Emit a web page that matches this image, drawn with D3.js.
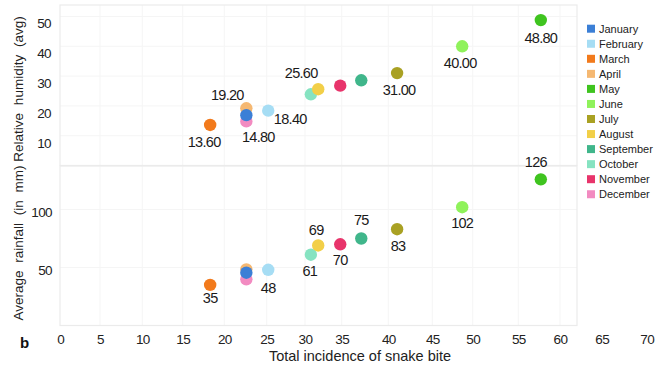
<!DOCTYPE html>
<html>
<head>
<meta charset="utf-8">
<script src="https://cdn.jsdelivr.net/npm/d3@7"></script>
<style>
  html, body { margin: 0; padding: 0; background: #fff; }
  svg { display: block; font-family: "Liberation Sans", Arial, sans-serif; }
</style>
</head>
<body>
<svg id="chart" width="672" height="365"></svg>
<script>
// Monthly snake bite incidence versus humidity and rainfall
const months = ["January", "February", "March", "April", "May", "June",
                "July", "August", "September", "October", "November", "December"];
const monthColors = ["#3b7fd6", "#a6ddf4", "#f27a1c", "#f5b872", "#3fc41f", "#8ff25b",
                     "#a9a123", "#f2cf48", "#40b68b", "#86e3c1", "#e8346b", "#f28bc1"];
const snakeBites = [22.6, 25.2, 18.3, 22.6, 57.7, 48.7, 41.0, 31.8, 37.1, 30.8, 34.8, 22.6];
const humidity   = [16.9, 18.4, 13.6, 19.2, 48.8, 40.0, 31.0, 25.6, 28.6, 23.9, 26.8, 14.8];
const rainfall   = [45.5, 48, 35, 48.4, 126, 102, 83, 69, 75, 61, 70, 39.8];
// Which points carry a value label (null = unlabelled)
const humidityLabels = [null, "18.40", "13.60", "19.20", "48.80", "40.00", "31.00", "25.60", null, null, null, "14.80"];
const rainfallLabels = [null, "48", "35", null, "126", "102", "83", "69", "75", "61", "70", null];
const xTicks = [0, 5, 10, 15, 20, 25, 30, 35, 40, 45, 50, 55, 60, 65, 70];
const humidityTicks = [10, 20, 30, 40, 50];
const rainfallTicks = [50, 100];

// label placement around each dot: [dx, dy] of the text centre
const humLabelOffset = [null, [22, 8], [-6, 17], [-19, -13], [0, 18], [-2, 17], [2, 17], [-17, -16], null, null, null, [12, 16]];
const rainLabelOffset = [null, [0, 18], [0, 13], null, [-5, -17], [0, 16], [1, 17], [-2, -15], [0, -19], [-1, 16], [0, 16], null];

const svg = d3.select("#chart");

// hand-spaced horizontal axis: each 5-unit tick has its own position
const xTickPixels = [60.3, 100, 142.3, 182.7, 224.3, 266.7, 305, 341.7, 388.3, 432.3, 472.7, 518.3, 560, 601.7, 646.7];
const x = d3.scaleLinear().domain(xTicks).range(xTickPixels);
const yHum = d3.scaleLinear().domain([0, 50]).range([165.5, 16.5]);
const yRain = d3.scaleLinear().domain([0, 100]).range([325.5, 209.5]);

const frameLeft = 60, frameRight = 577;
const panels = [
  { top: 5, bottom: 165.5, y: yHum, ticks: humidityTicks },
  { top: 166, bottom: 325.5, y: yRain, ticks: rainfallTicks }
];

// faint grid and panel frames
panels.forEach(p => {
  const g = svg.append("g");
  g.selectAll("line.v").data(d3.range(5, 61, 5)).join("line")
    .attr("x1", d => x(d)).attr("x2", d => x(d))
    .attr("y1", p.top).attr("y2", p.bottom)
    .attr("stroke", "#f5f5f5").attr("stroke-width", 1);
  g.selectAll("line.h").data(p.ticks).join("line")
    .attr("x1", frameLeft).attr("x2", frameRight)
    .attr("y1", d => p.y(d)).attr("y2", d => p.y(d))
    .attr("stroke", "#f5f5f5").attr("stroke-width", 1);
  g.append("rect")
    .attr("x", frameLeft).attr("y", p.top)
    .attr("width", frameRight - frameLeft).attr("height", p.bottom - p.top)
    .attr("fill", "none").attr("stroke", "#ebebeb").attr("stroke-width", 1.2);
});

// axes
function styleAxis(g, shift) {
  g.select(".domain").remove();
  g.selectAll("text")
    .attr("font-size", 13.5).attr("fill", "#222")
    .attr("font-family", "'Liberation Sans', Arial, sans-serif")
    .attr("letter-spacing", "-0.6")
    .attr("transform", `translate(0,${shift})`);
}
svg.append("g").attr("transform", "translate(51,0)")
  .call(d3.axisLeft(yHum).tickValues(humidityTicks).tickSize(0).tickPadding(0))
  .call(g => styleAxis(g, 7));
svg.append("g").attr("transform", "translate(52,0)")
  .call(d3.axisLeft(yRain).tickValues(rainfallTicks).tickSize(0).tickPadding(0))
  .call(g => styleAxis(g, 3));
svg.append("g").attr("transform", "translate(0,332)")
  .call(d3.axisBottom(x).tickValues(xTicks).tickSize(0).tickPadding(2))
  .call(g => styleAxis(g, 0));

// axis titles
svg.append("text")
  .attr("transform", "translate(23,89) rotate(-90)")
  .attr("text-anchor", "middle").attr("font-size", 13.5).attr("fill", "#222")
  .attr("word-spacing", "4").text("Relative humidity (avg)");
svg.append("text")
  .attr("transform", "translate(23,243) rotate(-90)")
  .attr("text-anchor", "middle").attr("font-size", 13.5).attr("fill", "#222")
  .attr("word-spacing", "4").text("Average rainfall (in mm)");
svg.append("text")
  .attr("x", 360).attr("y", 361)
  .attr("text-anchor", "middle").attr("font-size", 14.5).attr("fill", "#222")
  .text("Total incidence of snake bite");
svg.append("text")
  .attr("x", 20).attr("y", 348)
  .attr("font-size", 15).attr("font-weight", "bold").attr("fill", "#111").text("b");

// points (drawn December first so January sits on top)
const idx = d3.range(months.length).reverse();

function drawPanel(values, yScale, labels, offsets) {
  const g = svg.append("g");
  g.selectAll("circle").data(idx).join("circle")
    .attr("cx", i => x(snakeBites[i]))
    .attr("cy", i => yScale(values[i]))
    .attr("r", 6.2)
    .attr("fill", i => monthColors[i]);
  g.selectAll("text").data(idx.filter(i => labels[i] !== null)).join("text")
    .attr("x", i => x(snakeBites[i]) + offsets[i][0])
    .attr("y", i => yScale(values[i]) + offsets[i][1])
    .attr("text-anchor", "middle").attr("dominant-baseline", "central")
    .attr("font-size", 14.5).attr("fill", "#1a1a1a")
    .attr("letter-spacing", "-0.7")
    .text(i => labels[i]);
}
drawPanel(humidity, yHum, humidityLabels, humLabelOffset);
drawPanel(rainfall, yRain, rainfallLabels, rainLabelOffset);

// legend
const legend = svg.append("g").attr("transform", "translate(587,0)");
months.forEach((m, i) => {
  const cy = 28.7 + i * 15.05;
  legend.append("rect").attr("x", 0).attr("y", cy - 4).attr("width", 8).attr("height", 8)
    .attr("fill", monthColors[i]);
  legend.append("text").attr("x", 12).attr("y", cy).attr("dominant-baseline", "central")
    .attr("font-size", 11).attr("fill", "#222").text(m);
});
</script>
</body>
</html>
